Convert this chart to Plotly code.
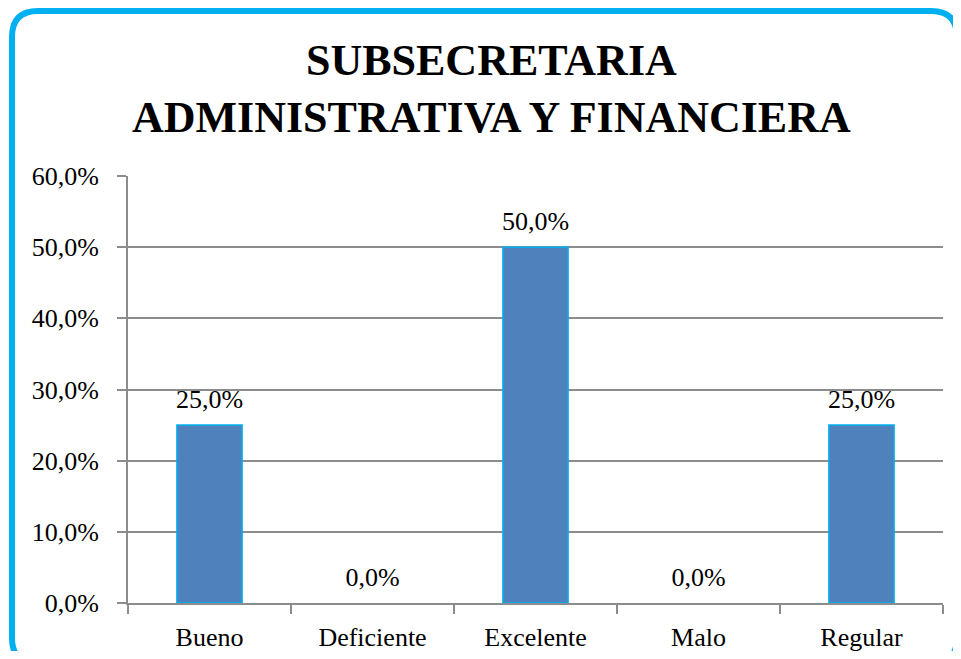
import plotly.graph_objects as go

categories = ["Bueno", "Deficiente", "Excelente", "Malo", "Regular"]
values = [0.25, 0.0, 0.50, 0.0, 0.25]
y_ticks = [0, 0.1, 0.2, 0.3, 0.4, 0.5, 0.6]
title_lines = ["SUBSECRETARIA", "ADMINISTRATIVA Y FINANCIERA"]
top_caption = "GRAFICA No. 6"

# figure sized so that, with the page body margin (8px), it fills the 961x659 window
W, H = 945, 643
L, R, T, B = 120, 10, 168, 48
PW, PH = W - L - R, H - T - B

def px(x):
    return (x - L) / PW

def py(y):
    return (H - B - y) / PH

FONT = "Liberation Serif"

fig = go.Figure()
fig.add_trace(go.Bar(
    x=categories, y=values, width=0.4,
    marker=dict(color="#4f81bd",
                line=dict(color="#00b0f0", width=[1.5 if v > 0 else 0 for v in values])),
    hoverinfo="x+y",
))
fig.add_trace(go.Scatter(
    x=categories, y=values, mode="markers+text",
    marker=dict(size=16, opacity=0),
    texttemplate="%{y:.1%}", textposition="top center", cliponaxis=False,
    textfont=dict(family=FONT, size=26, color="#000"),
    hoverinfo="skip",
))

# rounded border
x0, x1, y0, y1, r = 4, 949, 3, 656, 26
path = (f"M {px(x0+r)},{py(y0)} L {px(x1-r)},{py(y0)} Q {px(x1)},{py(y0)} {px(x1)},{py(y0+r)} "
        f"L {px(x1)},{py(y1-r)} Q {px(x1)},{py(y1)} {px(x1-r)},{py(y1)} "
        f"L {px(x0+r)},{py(y1)} Q {px(x0)},{py(y1)} {px(x0)},{py(y1-r)} "
        f"L {px(x0)},{py(y0+r)} Q {px(x0)},{py(y0)} {px(x0+r)},{py(y0)} Z")
fig.add_shape(type="path", path=path, xref="paper", yref="paper",
              line=dict(color="#00b0f0", width=6), layer="above")

fig.add_annotation(text="<b>" + "<br>".join(title_lines) + "</b>",
                   xref="paper", yref="paper",
                   x=px(483), y=py(26), xanchor="center", yanchor="top",
                   showarrow=False, font=dict(family=FONT, size=44, color="#000"))
fig.add_annotation(text=f"<b>{top_caption}</b>", xref="paper", yref="paper",
                   x=px(483), y=py(-3), xanchor="center", yanchor="bottom",
                   showarrow=False, font=dict(family="Liberation Sans", size=22, color="#000"))

fig.update_layout(
    width=W, height=H, margin=dict(l=L, r=R, t=T, b=B, autoexpand=False),
    paper_bgcolor="white", plot_bgcolor="white",
    separators=",.", showlegend=False, bargap=0.6,
    font=dict(family=FONT, size=26, color="#000"),
)
fig.update_yaxes(range=[0, 0.6], tickvals=y_ticks, tickformat=".1%",
                 showgrid=True, gridcolor="#8c8c8c", gridwidth=1.5,
                 showline=True, linecolor="#8c8c8c", linewidth=2,
                 ticks="outside", ticklen=9, tickcolor="#8c8c8c", tickwidth=1.5,
                 ticklabelstandoff=13, zeroline=False, automargin=False,
                 tickfont=dict(family=FONT, size=26))
fig.update_xaxes(showline=True, linecolor="#8c8c8c", linewidth=2,
                 ticks="outside", ticklen=9, tickcolor="#8c8c8c", tickwidth=1.5,
                 tickson="boundaries", ticklabelstandoff=10, automargin=False,
                 tickfont=dict(family=FONT, size=26))

fig.write_html("out.html")
